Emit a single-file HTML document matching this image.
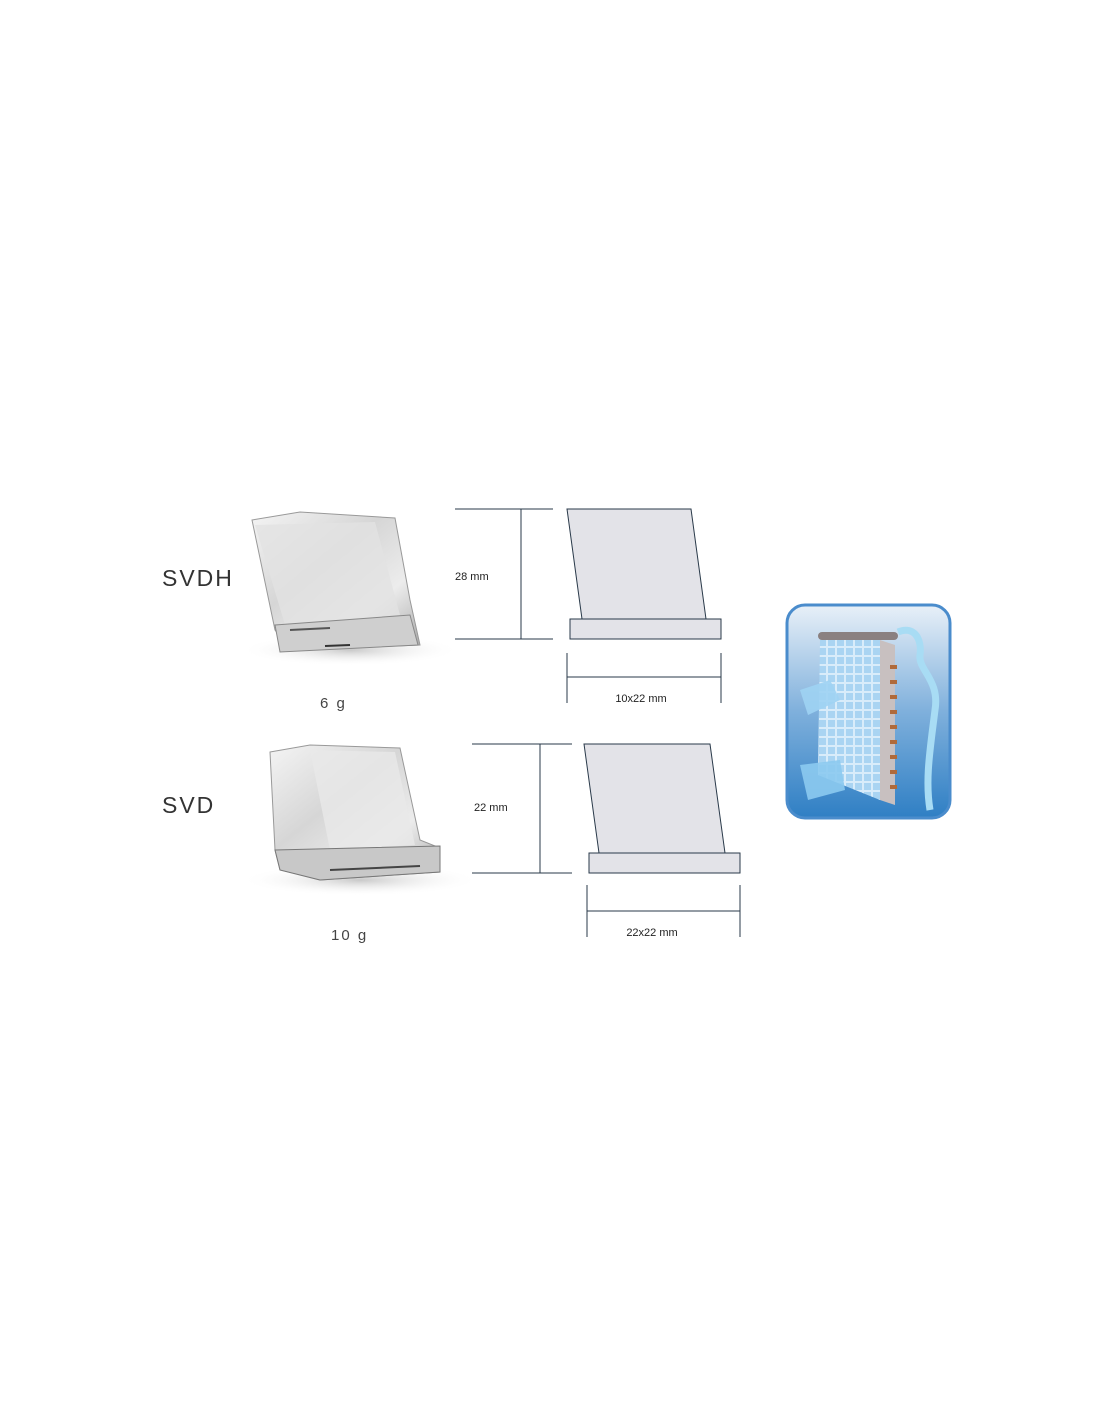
<!DOCTYPE html>
<html><head><meta charset="utf-8"><style>
html,body{margin:0;padding:0;background:#fff;}
svg{display:block;}
text{font-family:"Liberation Sans",sans-serif;}
</style></head><body>
<svg width="1100" height="1422" viewBox="0 0 1100 1422" xmlns="http://www.w3.org/2000/svg">
<defs>
<linearGradient id="ice" x1="0" y1="0" x2="1" y2="1">
<stop offset="0" stop-color="#f4f4f4"/><stop offset="0.4" stop-color="#d6d6d6"/><stop offset="0.7" stop-color="#ececec"/><stop offset="1" stop-color="#a8a8a8"/></linearGradient>
<radialGradient id="sh" cx="0.5" cy="0.5" r="0.5"><stop offset="0" stop-color="#bbb" stop-opacity="0.8"/><stop offset="1" stop-color="#fff" stop-opacity="0"/></radialGradient>
<linearGradient id="bx" x1="0" y1="0" x2="0" y2="1"><stop offset="0" stop-color="#e8f0f8"/><stop offset="0.5" stop-color="#7fb0dc"/><stop offset="1" stop-color="#2f7fc4"/></linearGradient>
<pattern id="grid" width="9" height="9" patternUnits="userSpaceOnUse"><rect width="9" height="9" fill="#d8ecfa"/><rect width="7" height="7" fill="#a9d4f2"/></pattern>
</defs>
<!-- shadows -->
<ellipse cx="350" cy="650" rx="110" ry="16" fill="url(#sh)"/>
<ellipse cx="360" cy="880" rx="120" ry="16" fill="url(#sh)"/>
<!-- SVDH cube -->
<polygon points="252,520 300,512 395,518 410,600 420,645 290,650 275,630" fill="url(#ice)" stroke="#999" stroke-width="1"/>
<polygon points="255,525 375,522 400,615 285,625" fill="#e2e2e2" opacity="0.8"/>
<polygon points="275,625 410,615 418,645 280,652" fill="#cfcfcf" stroke="#888"/>
<line x1="290" y1="630" x2="330" y2="628" stroke="#555" stroke-width="2"/>
<line x1="325" y1="646" x2="350" y2="645" stroke="#333" stroke-width="2"/>
<!-- SVD cube -->
<polygon points="270,752 310,745 400,748 420,840 440,848 440,872 320,880 280,870 275,850" fill="url(#ice)" stroke="#999"/>
<polygon points="310,750 395,752 415,845 330,850" fill="#e8e8e8" opacity="0.8"/>
<polygon points="275,850 440,846 440,872 320,880 280,870" fill="#c8c8c8" stroke="#777"/>
<line x1="330" y1="870" x2="420" y2="866" stroke="#444" stroke-width="2"/>
<!-- labels -->
<text x="162" y="586" font-size="23" fill="#333" letter-spacing="2">SVDH</text>
<text x="320" y="708" font-size="15" fill="#444" letter-spacing="2">6 g</text>
<text x="162" y="813" font-size="23" fill="#333" letter-spacing="2">SVD</text>
<text x="331" y="940" font-size="15" fill="#444" letter-spacing="2">10 g</text>
<!-- SVDH drawing -->
<g stroke="#2a3a4a" stroke-width="1" fill="none">
<line x1="455" y1="509" x2="553" y2="509"/><line x1="455" y1="639" x2="553" y2="639"/><line x1="521" y1="509" x2="521" y2="639"/>
<line x1="567" y1="653" x2="567" y2="703"/><line x1="721" y1="653" x2="721" y2="703"/><line x1="567" y1="677" x2="721" y2="677"/>
<polygon points="567,509 691,509 706,619 582,619" fill="#e3e3e8"/>
<rect x="570" y="619" width="151" height="20" fill="#e3e3e8"/>
</g>
<text x="455" y="580" font-size="11" fill="#222">28 mm</text>
<text x="641" y="702" font-size="11" fill="#222" text-anchor="middle">10x22 mm</text>
<!-- SVD drawing -->
<g stroke="#2a3a4a" stroke-width="1" fill="none">
<line x1="472" y1="744" x2="572" y2="744"/><line x1="472" y1="873" x2="572" y2="873"/><line x1="540" y1="744" x2="540" y2="873"/>
<line x1="587" y1="885" x2="587" y2="937"/><line x1="740" y1="885" x2="740" y2="937"/><line x1="587" y1="911" x2="740" y2="911"/>
<polygon points="584,744 710,744 725,853 599,853" fill="#e3e3e8"/>
<rect x="589" y="853" width="151" height="20" fill="#e3e3e8"/>
</g>
<text x="474" y="811" font-size="11" fill="#222">22 mm</text>
<text x="652" y="936" font-size="11" fill="#222" text-anchor="middle">22x22 mm</text>
<!-- icon -->
<rect x="787" y="605" width="163" height="213" rx="18" fill="url(#bx)" stroke="#4a8ccc" stroke-width="3"/>
<polygon points="820,640 880,640 880,800 818,775" fill="url(#grid)"/>
<polygon points="880,640 895,645 895,805 880,800" fill="#c8c0c0"/>
<rect x="818" y="632" width="80" height="8" rx="4" fill="#8a8080"/>
<g fill="#b06a3a"><rect x="890" y="665" width="7" height="4"/><rect x="890" y="680" width="7" height="4"/><rect x="890" y="695" width="7" height="4"/><rect x="890" y="710" width="7" height="4"/><rect x="890" y="725" width="7" height="4"/><rect x="890" y="740" width="7" height="4"/><rect x="890" y="755" width="7" height="4"/><rect x="890" y="770" width="7" height="4"/><rect x="890" y="785" width="7" height="4"/></g>
<path d="M898,632 C915,625 922,640 920,655 C918,670 940,680 935,710 C930,750 925,780 930,810" stroke="#a8dcf4" stroke-width="7" fill="none"/>
<polygon points="800,690 830,680 840,700 808,715" fill="#9fd3f3" opacity="0.9"/>
<polygon points="800,765 840,760 845,790 808,800" fill="#8ccaf0" opacity="0.9"/>
</svg>
</body></html>
